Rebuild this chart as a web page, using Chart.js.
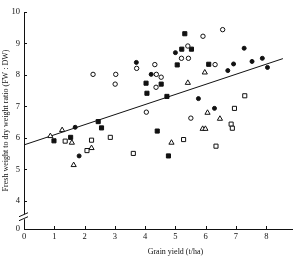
<!DOCTYPE html>
<html>
<head>
<meta charset="utf-8">
<script src="https://cdn.jsdelivr.net/npm/chart.js@4.4.1/dist/chart.umd.min.js"></script>
<style>
  html, body { margin: 0; padding: 0; background: #fff; }
  #wrap { width: 296px; height: 259px; }
</style>
</head>
<body>
<div id="wrap"><canvas id="ratioChart"></canvas></div>
<script>
// Fresh weight : dry weight ratio against grain yield

// [grain yield (t/ha), FW:DW ratio]
const filledCircles = [
    [1.69, 6.34], [1.82, 5.43], [3.71, 8.40], [4.20, 8.02], [5.00, 8.71],
    [5.76, 7.25], [6.29, 6.94], [6.73, 8.14], [6.92, 8.35], [7.27, 8.85],
    [7.53, 8.43], [7.87, 8.53], [8.04, 8.24]
];
const openCircles = [
    [2.28, 8.02], [3.03, 8.02], [3.01, 7.71], [3.72, 8.21], [4.32, 8.33],
    [4.37, 8.02], [4.53, 7.93], [4.36, 7.61], [4.04, 6.82], [5.20, 8.53],
    [5.43, 8.53], [5.41, 8.92], [5.91, 9.23], [6.56, 9.44], [6.31, 8.33],
    [5.51, 6.63]
];
const filledSquares = [
    [0.99, 5.91], [1.54, 6.02], [2.45, 6.52], [2.56, 6.32], [4.03, 7.74],
    [4.06, 7.42], [4.53, 7.71], [4.72, 7.32], [4.40, 6.22], [4.77, 5.43],
    [5.06, 8.32], [5.21, 8.82], [5.31, 9.31], [5.53, 8.82], [6.10, 8.34]
];
const openSquares = [
    [1.36, 5.90], [2.08, 5.60], [2.23, 5.93], [2.85, 6.02], [3.61, 5.51],
    [5.27, 5.95], [6.34, 5.74], [6.95, 6.94], [7.29, 7.34], [6.84, 6.44],
    [6.88, 6.31]
];
const openTriangles = [
    [0.87, 6.06], [1.26, 6.25], [1.58, 5.85], [1.64, 5.14], [2.23, 5.68],
    [4.87, 5.85], [5.41, 7.75], [5.97, 8.08], [6.06, 6.80], [6.47, 6.61],
    [5.90, 6.29], [5.99, 6.29]
];

// fitted line
const fitX = [0, 8.55];
const fitY = [5.78, 8.52];

const xTicks = [0, 1, 2, 3, 4, 5, 6, 7, 8];
const yTicks = [4, 5, 6, 7, 8, 9, 10];
const yZero = 3.11;   // where the broken axis shows "0"
const yBreak = 3.5;

const INK = '#111';
const serif = '"Liberation Serif", "DejaVu Serif", serif';

function pts(list) {
    return list.map(p => ({ x: p[0], y: p[1] }));
}

function markerSet(list, style, filled, radius) {
    return {
        type: 'scatter',
        data: pts(list),
        pointStyle: style,
        pointRadius: radius,
        pointHoverRadius: radius,
        pointBackgroundColor: filled ? INK : '#fff',
        pointBorderColor: INK,
        pointBorderWidth: 1
    };
}

// inward tick marks, axis break and x title
const axisExtras = {
    id: 'axisExtras',
    afterDraw(chart) {
        const ctx = chart.ctx;
        const xs = chart.scales.x;
        const ys = chart.scales.y;
        const left = chart.chartArea.left;
        const bottom = chart.chartArea.bottom;

        ctx.save();
        ctx.strokeStyle = INK;
        ctx.lineWidth = 1;
        ctx.beginPath();
        xTicks.forEach(v => {
            const px = Math.round(xs.getPixelForValue(v)) + 0.5;
            ctx.moveTo(px, bottom);
            ctx.lineTo(px, bottom - 3);
        });
        yTicks.forEach(v => {
            const py = Math.round(ys.getPixelForValue(v)) + 0.5;
            ctx.moveTo(left, py);
            ctx.lineTo(left + 3, py);
        });
        ctx.stroke();

        // break in the y axis
        const by = ys.getPixelForValue(yBreak);
        ctx.fillStyle = '#fff';
        ctx.fillRect(left - 2, by - 2.5, 4, 5);
        ctx.beginPath();
        ctx.moveTo(left - 5, by);
        ctx.lineTo(left + 4, by - 4);
        ctx.moveTo(left - 5, by + 4);
        ctx.lineTo(left + 4, by);
        ctx.stroke();

        // x axis title
        ctx.fillStyle = INK;
        ctx.font = '8px ' + serif;
        ctx.textAlign = 'center';
        ctx.textBaseline = 'middle';
        ctx.fillText('Grain yield (t/ha)', xs.getPixelForValue(5), 252);
        ctx.restore();
    }
};

const ctxRatio = document.getElementById('ratioChart').getContext('2d');

new Chart(ctxRatio, {
    data: {
        datasets: [
            markerSet(filledCircles, 'circle', true, 2),
            markerSet(openCircles, 'circle', false, 2.2),
            markerSet(filledSquares, 'rect', true, 2.9),
            markerSet(openSquares, 'rect', false, 2.9),
            markerSet(openTriangles, 'triangle', false, 3),
            {
                type: 'line',
                data: fitX.map((x, i) => ({ x: x, y: fitY[i] })),
                borderColor: INK,
                borderWidth: 1,
                pointRadius: 0,
                fill: false
            }
        ]
    },
    options: {
        responsive: true,
        maintainAspectRatio: false,
        animation: false,
        layout: { padding: { top: 12, right: 0, left: 0, bottom: 0 } },
        plugins: {
            legend: { display: false },
            tooltip: { enabled: false }
        },
        scales: {
            x: {
                type: 'linear',
                min: 0,
                max: 8.85,
                afterBuildTicks: s => { s.ticks = xTicks.map(v => ({ value: v })); },
                afterFit: s => { s.height = 30; },
                grid: { display: false, drawTicks: false },
                border: { display: true, color: INK, width: 1 },
                ticks: { color: INK, padding: 3, font: { family: serif, size: 8.5 } }
            },
            y: {
                type: 'linear',
                min: yZero,
                max: 10,
                afterBuildTicks: s => { s.ticks = [yZero].concat(yTicks).map(v => ({ value: v })); },
                afterFit: s => { s.width = 24; },
                grid: { display: false, drawTicks: false },
                border: { display: true, color: INK, width: 1 },
                ticks: {
                    color: INK,
                    padding: 4,
                    font: { family: serif, size: 8.5 },
                    callback: v => (v === yZero ? '0' : v)
                },
                title: {
                    display: true,
                    text: 'Fresh weight to dry weight ratio (FW : DW)',
                    color: INK,
                    font: { family: serif, size: 8 },
                    padding: { top: 1, bottom: 0 }
                }
            }
        }
    },
    plugins: [axisExtras]
});
</script>
</body>
</html>
